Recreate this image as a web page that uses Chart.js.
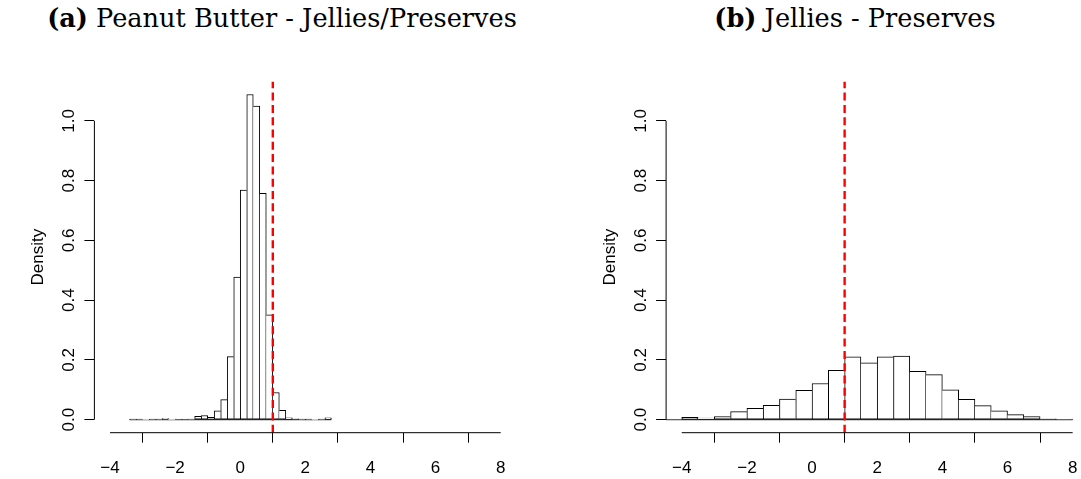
<!DOCTYPE html>
<html>
<head>
<meta charset="utf-8">
<script src="https://cdn.jsdelivr.net/npm/chart.js@4.4.1/dist/chart.umd.min.js"></script>
<style>
  body { margin: 0; background: #fff; width: 1081px; height: 479px; position: relative; overflow: hidden; }
  .ttl { position: absolute; top: 1px; line-height: 34px; font-family: 'DejaVu Serif', serif; font-size: 25.6px;
         color: #000; white-space: nowrap; transform: translateX(-50%); }
  .box { position: absolute; top: 0; height: 479px; }
</style>
</head>
<body>
<div class="ttl" id="ttl-a" style="left:282px"></div>
<div class="ttl" id="ttl-b" style="left:855px"></div>
<div class="box" style="left:0;width:540px"><canvas id="hist-a"></canvas></div>
<div class="box" style="left:540px;width:560px"><canvas id="hist-b"></canvas></div>

<script>
// panel titles
const tagA = '(a)', titleA = 'Peanut Butter - Jellies/Preserves';
const tagB = '(b)', titleB = 'Jellies - Preserves';
const yLabel = 'Density';

// axis ticks (same for both panels)
const xTicks = [-4, -2, 0, 2, 4, 6, 8];
const yTicks = [0, 0.2, 0.4, 0.6, 0.8, 1.0];
const refValue = 1;   // dashed red line

// (a) Peanut Butter - Jellies/Preserves : bins of 0.2 starting at -3.4
const pbStart = -3.4;
const pbWidth = 0.2;
const pbDensity = [0.001, 0.001, 0, 0.001, 0.001, 0.004, 0, 0.002, 0.002, 0.001,
                   0.011, 0.014, 0.008, 0.030, 0.067, 0.211, 0.477, 0.768, 1.088, 1.049,
                   0.757, 0.351, 0.091, 0.031, 0.006, 0.003, 0.001, 0.001, 0, 0.001, 0.006];

// (b) Jellies - Preserves : bins of 0.5 starting at -4.5
const jpStart = -4.5;
const jpWidth = 0.5;
const jpDensity = [0.002, 0.008, 0.005, 0.010, 0.027, 0.038, 0.048, 0.069, 0.098, 0.121,
                   0.165, 0.210, 0.190, 0.210, 0.213, 0.162, 0.151, 0.100, 0.068, 0.047,
                   0.030, 0.017, 0.010, 0.003, 0.002];

document.getElementById('ttl-a').innerHTML = '<b>' + tagA + '</b> ' + titleA;
document.getElementById('ttl-b').innerHTML = '<b>' + tagB + '</b> ' + titleB;

Chart.defaults.font.family = "'Liberation Sans', Arial, sans-serif";
Chart.defaults.font.size = 17;
Chart.defaults.color = '#000';

// R style limits: data range stretched by 4% on each side
const xSpan = xTicks[xTicks.length - 1] - xTicks[0];
const xMin = xTicks[0] - 0.04 * xSpan;
const xMax = xTicks[xTicks.length - 1] + 0.04 * xSpan;
const yTop = Math.max(...pbDensity);
const yMin = -0.04 * yTop;
const yMax = yTop * 1.04;

// R draws the axis line only between first and last tick
const rAxisLines = {
    id: 'rAxisLines',
    afterDraw(chart) {
        const ctx = chart.ctx;
        const xs = chart.scales.x, ys = chart.scales.y;
        ctx.save();
        ctx.strokeStyle = '#000';
        ctx.lineWidth = 1;
        ctx.beginPath();
        ctx.moveTo(xs.getPixelForValue(xTicks[0]), xs.top);
        ctx.lineTo(xs.getPixelForValue(xTicks[xTicks.length - 1]), xs.top);
        ctx.moveTo(ys.right, ys.getPixelForValue(yTicks[0]));
        ctx.lineTo(ys.right, ys.getPixelForValue(yTicks[yTicks.length - 1]));
        ctx.stroke();
        ctx.restore();
    }
};

function makeHist(canvasId, start, width, density, areaLeft, padRight) {
    const n = density.length;
    const bars = density.map((d, i) => ({ x: start + width * (i + 0.5), y: d }));
    const baseline = [{ x: start, y: 0 }, { x: start + width * n, y: 0 }];

    // shared edges are drawn once, by the taller of the two neighbours
    const edges = ctx => {
        const i = ctx.dataIndex;
        const h = density[i];
        const prev = i > 0 ? density[i - 1] : -1;
        const next = i < n - 1 ? density[i + 1] : -1;
        return { top: 1, bottom: 1, left: h >= prev ? 1 : 0, right: h > next ? 1 : 0 };
    };

    return new Chart(document.getElementById(canvasId), {
        type: 'bar',
        data: {
            datasets: [
                {
                    type: 'line',
                    data: [{ x: refValue, y: yMin }, { x: refValue, y: yMax }],
                    borderColor: '#ff0000',
                    borderWidth: 2.4,
                    borderDash: [8, 4.3],
                    pointRadius: 0,
                    order: 0
                },
                {
                    data: bars,
                    backgroundColor: '#fff',
                    borderColor: '#000',
                    borderWidth: edges,
                    borderSkipped: false,
                    barPercentage: 1,
                    categoryPercentage: 1,
                    grouped: false,
                    order: 1
                },
                {
                    type: 'line',
                    data: baseline,
                    borderColor: '#000',
                    borderWidth: 1,
                    pointRadius: 0,
                    order: 2
                }
            ]
        },
        options: {
            responsive: true,
            maintainAspectRatio: false,
            animation: false,
            layout: { padding: { top: 81.5, right: padRight, bottom: 0, left: 0 } },
            plugins: {
                legend: { display: false },
                tooltip: { enabled: false }
            },
            scales: {
                x: {
                    type: 'linear',
                    min: xMin,
                    max: xMax,
                    offset: false,
                    border: { display: false },
                    grid: { drawOnChartArea: false, drawTicks: true, tickLength: 10, color: '#000' },
                    afterBuildTicks: s => { s.ticks = xTicks.map(v => ({ value: v })); },
                    afterFit: s => { s.height = 46.3; },
                    ticks: {
                        autoSkip: false,
                        maxRotation: 0,
                        padding: 15,
                        callback: v => (v < 0 ? '\u2212' + Math.abs(v) : String(v))
                    }
                },
                y: {
                    min: yMin,
                    max: yMax,
                    border: { display: false },
                    grid: { drawOnChartArea: false, drawTicks: true, tickLength: 10, color: '#000' },
                    afterBuildTicks: s => { s.ticks = yTicks.map(v => ({ value: v })); },
                    afterFit: s => { s.width = areaLeft; },
                    ticks: {
                        autoSkip: false,
                        minRotation: 90,
                        maxRotation: 90,
                        crossAlign: 'center',
                        padding: 3,
                        callback: v => v.toFixed(1)
                    },
                    title: {
                        display: true,
                        text: yLabel,
                        font: { size: 17 },
                        padding: { top: areaLeft - 56 - 10.2, bottom: 0 }
                    }
                }
            }
        },
        plugins: [rAxisLines]
    });
}

makeHist('hist-a', pbStart, pbWidth, pbDensity, 94.4, 23.7);
makeHist('hist-b', jpStart, jpWidth, jpDensity, 126.1, 11.7);
</script>
</body>
</html>
